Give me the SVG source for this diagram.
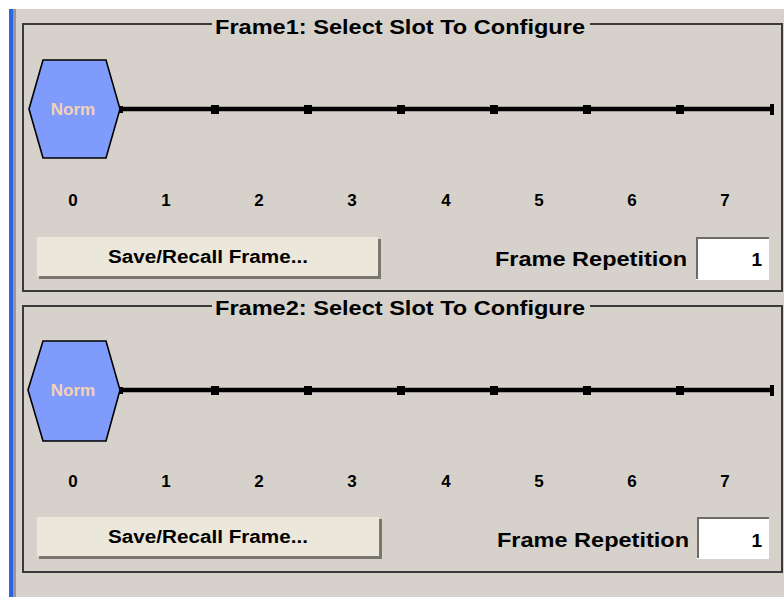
<svg xmlns="http://www.w3.org/2000/svg" width="784" height="597" viewBox="0 0 784 597">
<style>
.bg{fill:#d6d2cb}
.frame{fill:none;stroke:#3a3a3a;stroke-width:2}
.title{font-family:"Liberation Sans",Arial,sans-serif;font-weight:bold;font-size:20px;fill:#000}
.hex{fill:#7f9bfb;stroke:#000;stroke-width:1.6}
.norm{font-family:"Liberation Sans",Arial,sans-serif;font-weight:bold;font-size:17px;fill:#f4d2b4;text-anchor:middle}
.num{font-family:"Liberation Sans",Arial,sans-serif;font-weight:bold;font-size:17px;fill:#000;text-anchor:middle}
.line{stroke:#000;stroke-width:4.5}
.tick{fill:#000}
.btn{fill:#ebe7da}
.btnshadow{fill:#7a776f}
.btntxt{font-family:"Liberation Sans",Arial,sans-serif;font-weight:bold;font-size:18px;fill:#000;text-anchor:middle}
.lbl{font-family:"Liberation Sans",Arial,sans-serif;font-weight:bold;font-size:20px;fill:#000}
.input{fill:#fff}
.inborder{fill:none;stroke:#6e6b64;stroke-width:2}
.val{font-family:"Liberation Sans",Arial,sans-serif;font-weight:bold;font-size:19px;fill:#000;text-anchor:end}
</style>
<rect x="0" y="0" width="784" height="597" fill="#ffffff"/>
<rect class="bg" x="9" y="9" width="775" height="588"/>
<rect x="9" y="9" width="4" height="588" fill="#2a62e8"/>
<rect x="13" y="9" width="3" height="588" fill="#9b978f"/>

<g id="frame1">
  <rect class="frame" x="23" y="24" width="759" height="267"/>
  <rect class="bg" x="212" y="14" width="378" height="20"/>
  <text class="title" x="215" y="34" textLength="370" lengthAdjust="spacingAndGlyphs">Frame1: Select Slot To Configure</text>
</g>
<g id="frame1-slots">
  <line class="line" x1="120" y1="109" x2="773" y2="109"/>
  <rect class="tick" x="211" y="105" width="8" height="9"/>
  <rect class="tick" x="304" y="105" width="8" height="9"/>
  <rect class="tick" x="397" y="105" width="8" height="9"/>
  <rect class="tick" x="490" y="105" width="8" height="9"/>
  <rect class="tick" x="583" y="105" width="8" height="9"/>
  <rect class="tick" x="676" y="105" width="8" height="9"/>
  <rect class="tick" x="770" y="104" width="4" height="11"/>
  <rect class="tick" x="118" y="106" width="5" height="7"/>
</g>
<g id="frame1-slot0">
  <polygon class="hex" points="43,60 106,60 120,109 106,158 43,158 29,109"/>
  <text class="norm" x="73" y="115">Norm</text>
</g>
<g id="frame1-numbers">
  <text class="num" x="73" y="206">0</text>
  <text class="num" x="166" y="206">1</text>
  <text class="num" x="259" y="206">2</text>
  <text class="num" x="352" y="206">3</text>
  <text class="num" x="446" y="206">4</text>
  <text class="num" x="539" y="206">5</text>
  <text class="num" x="632" y="206">6</text>
  <text class="num" x="725" y="206">7</text>
</g>
<g id="frame1-save">
  <rect class="btnshadow" x="39" y="239" width="342" height="40"/>
  <rect class="btn" x="37" y="237" width="341" height="39"/>
  <text class="btntxt" x="208" y="263" textLength="200" lengthAdjust="spacingAndGlyphs">Save/Recall Frame...</text>
</g>
<g id="frame1-repetition">
  <text class="lbl" x="495" y="266" textLength="192" lengthAdjust="spacingAndGlyphs">Frame Repetition</text>
  <rect class="input" x="696" y="237" width="73" height="43"/>
  <path class="inborder" d="M697,279 V238 H769"/>
  <text class="val" x="762" y="266">1</text>
</g>

<g id="frame2">
  <rect class="frame" x="23" y="306" width="759" height="266"/>
  <rect class="bg" x="212" y="296" width="378" height="20"/>
  <text class="title" x="215" y="315" textLength="370" lengthAdjust="spacingAndGlyphs">Frame2: Select Slot To Configure</text>
</g>
<g id="frame2-slots">
  <line class="line" x1="120" y1="390" x2="773" y2="390"/>
  <rect class="tick" x="211" y="386" width="8" height="9"/>
  <rect class="tick" x="304" y="386" width="8" height="9"/>
  <rect class="tick" x="397" y="386" width="8" height="9"/>
  <rect class="tick" x="490" y="386" width="8" height="9"/>
  <rect class="tick" x="583" y="386" width="8" height="9"/>
  <rect class="tick" x="676" y="386" width="8" height="9"/>
  <rect class="tick" x="770" y="385" width="4" height="11"/>
  <rect class="tick" x="118" y="387" width="5" height="7"/>
</g>
<g id="frame2-slot0">
  <polygon class="hex" points="43,341 106,341 120,390 106,441 43,441 28,390"/>
  <text class="norm" x="73" y="396">Norm</text>
</g>
<g id="frame2-numbers">
  <text class="num" x="73" y="487">0</text>
  <text class="num" x="166" y="487">1</text>
  <text class="num" x="259" y="487">2</text>
  <text class="num" x="352" y="487">3</text>
  <text class="num" x="446" y="487">4</text>
  <text class="num" x="539" y="487">5</text>
  <text class="num" x="632" y="487">6</text>
  <text class="num" x="725" y="487">7</text>
</g>
<g id="frame2-save">
  <rect class="btnshadow" x="39" y="519" width="343" height="40"/>
  <rect class="btn" x="37" y="517" width="342" height="39"/>
  <text class="btntxt" x="208" y="543" textLength="200" lengthAdjust="spacingAndGlyphs">Save/Recall Frame...</text>
</g>
<g id="frame2-repetition">
  <text class="lbl" x="497" y="547" textLength="192" lengthAdjust="spacingAndGlyphs">Frame Repetition</text>
  <rect class="input" x="697" y="517" width="72" height="42"/>
  <path class="inborder" d="M698,558 V518 H769"/>
  <text class="val" x="762" y="547">1</text>
</g>
</svg>
